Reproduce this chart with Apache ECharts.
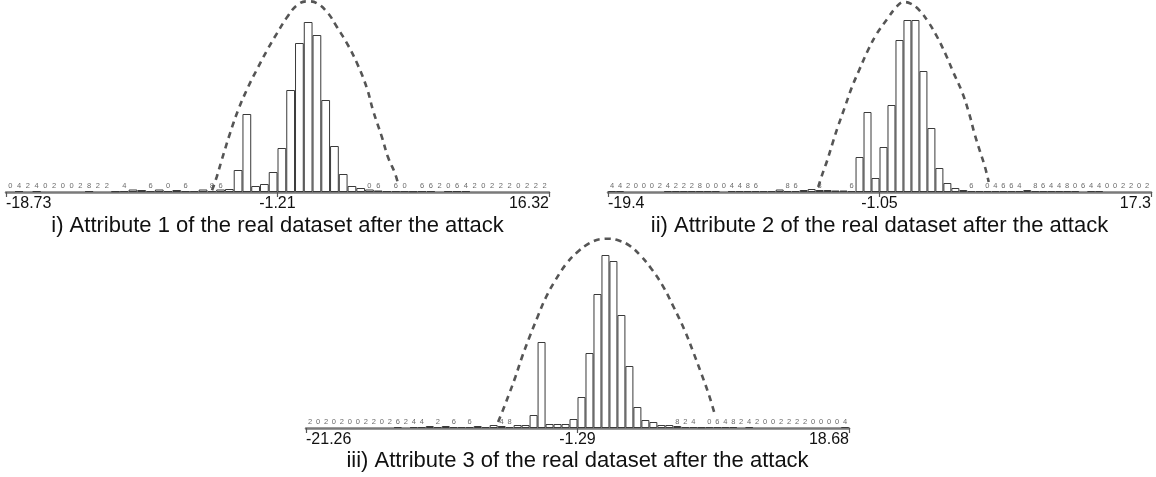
<!DOCTYPE html>
<html><head><meta charset="utf-8">
<script src="https://cdn.jsdelivr.net/npm/echarts@6/dist/echarts.min.js"></script>
<style>html,body{margin:0;padding:0;background:#fff}#c{width:1156px;height:477px}</style>
</head><body><div id="c"></div>
<script>
// ---------- titles ----------
const title1 = "i) Attribute 1 of the real dataset after the attack";
const title2 = "ii) Attribute 2 of the real dataset after the attack";
const title3 = "iii) Attribute 3 of the real dataset after the attack";

// ---------- axis ticks (min, mean, max) ----------
const ticks1 = [-18.73, -1.21, 16.32];
const tickLabels1 = ["-18.73", "-1.21", "16.32"];
const ticks2 = [-19.4, -1.05, 17.3];
const tickLabels2 = ["-19.4", "-1.05", "17.3"];
const ticks3 = [-21.26, -1.29, 18.68];
const tickLabels3 = ["-21.26", "-1.29", "18.68"];

// ---------- histogram bins (heights) ----------
const bars1 = [0,1,0,1,0,0,0,0,0,1,0,0, 0.8,1,2.5,2,1,2.5,1,2,1,1,2.5,1,2.5,3,
  22,78,6,8,20,44,102,149,170,157,92,46,18,6,4,
  2.5,1.5,1,1,1,0.8,1,1,0,1,1,1,0,0,0,0,0,0,0,0,0];
const bars2 = [1,1,0,0,0,0,0,1,1,1,1,1,1,1,0,1,1,1,1, 1,1,2.5,1,1,2,3,2,2,1.5,1.5,1,
  35,80,14,45,87,152,172,172,121,64,24,9,4,
  2,1,1,1,1,1,1,1,2,1,1,1,1,1,1,0,1,1,0,0,0,0,0,0];
const bars3 = [0,0,0,0,0,0,0,0,0,0,0,1,0,1,1, 2,1,2,1,1,1,2,1,3,2,1,3,3,
  13,86,4,4,4,9,31,75,134,173,167,113,62,21,8,6,3,3,
  2,1,1,0.8,1,1,1,1,0,1,0,0,0,0,0,0,0,0,0,0,0,1];

// ---------- count labels printed over the bins ----------
const counts1 = ["0","4","2","4","0","2","0","0","2","8","2","2","","4","","","6","","0","","6","","","8","6",
  "","","","","","","","","","","","","","","","",
  "0","6","","6","0","","6","6","2","0","6","4","2","0","2","2","2","0","2","2","2"];
const counts2 = ["4","4","2","0","0","0","2","4","2","2","2","8","0","0","0","4","4","8","6",
  "","","","8","6","","","8","","","","6",
  "","","","","","","","","","","","","",
  "","6","","0","4","6","6","4","","8","6","4","4","8","0","6","4","4","0","0","2","2","0","2"];
const counts3 = ["2","0","2","0","2","0","0","2","2","0","2","6","2","4","4",
  "","2","","6","","6","","","","4","8","","",
  "","","","","","","","","","","","","","","","","","",
  "8","2","4","","0","6","4","8","2","4","2","0","0","2","2","2","2","0","0","0","0","4"];

// ---------- fitted (dashed) curves ----------
const curve1X = [-5.43,-5.13,-4.81,-4.27,-3.75,-3.11,-2.46,-1.88,-1.24,-0.59,0.05,0.70,1.35,2.06,2.64,3.28,3.93,4.57,4.96,5.54,5.93,6.38,6.57];
const curve1Y = [1.7,15,31.7,58.7,81.7,104.7,124.7,141.7,158.7,174.7,186.7,190.7,188.7,178.7,164.7,148.7,128.7,103.7,81.7,54.7,34.7,18.7,8.7];
const curve2X = [-5.19,-4.94,-4.58,-4.23,-3.87,-3.39,-2.91,-2.43,-1.83,-1.23,-0.51,0.09,0.57,1.05,1.65,2.25,2.85,3.45,3.93,4.53,5.01,5.37,5.72,6.08,6.33];
const curve2Y = [5,16.7,31.7,48.4,65,85,105,121.7,141.7,158.4,173.4,185,190,188.4,181.7,170,155,136.7,120,100,78.4,58.4,41.7,25,10];
const curve3X = [-7.13,-6.78,-6.31,-5.86,-5.37,-4.82,-4.23,-3.60,-2.92,-2.11,-1.29,-0.47,0.34,1.02,1.70,2.51,3.33,4.14,4.96,5.78,6.59,7.27,7.82,8.35,8.76];
const curve3Y = [6,17.7,34.3,51,71,91,111,131,147.7,164.3,176,184.3,188.7,189.3,187.7,182.7,172.7,159.3,142.7,121,97.7,74.3,54.3,34.3,16];

const FONT = "'Liberation Sans', Arial, sans-serif";
const panels = [
  {title: title1, ticks: ticks1, labels: tickLabels1, bars: bars1, counts: counts1, cx: curve1X, cy: curve1Y,
   grid: {left: 6, top: 0, width: 543, height: 192}, tx: 277.5, ty: 214},
  {title: title2, ticks: ticks2, labels: tickLabels2, bars: bars2, counts: counts2, cx: curve2X, cy: curve2Y,
   grid: {left: 608, top: 0, width: 543, height: 192}, tx: 879.5, ty: 214},
  {title: title3, ticks: ticks3, labels: tickLabels3, bars: bars3, counts: counts3, cx: curve3X, cy: curve3Y,
   grid: {left: 306, top: 236, width: 543, height: 192}, tx: 577.5, ty: 449}
];

const option = {animation: false, backgroundColor: '#fff', grid: [], xAxis: [], yAxis: [], series: [], title: []};
panels.forEach((p, k) => {
  option.grid.push(p.grid);
  option.xAxis.push({type: 'category', gridIndex: k, position: 'bottom', data: p.bars.map((_, i) => i), show: false, boundaryGap: true});
  option.xAxis.push({
    type: 'value', gridIndex: k, position: 'bottom', min: p.ticks[0], max: p.ticks[2],
    splitLine: {show: false},
    axisLine: {show: true, onZero: false, lineStyle: {color: '#7a7a7a', width: 2.5}},
    axisTick: {show: true, customValues: p.ticks, length: 5, lineStyle: {color: '#555', width: 1.2}},
    axisLabel: {
      customValues: p.ticks,
      formatter: v => {
        let best = 0;
        p.ticks.forEach((t, i) => { if (Math.abs(t - v) < Math.abs(p.ticks[best] - v)) best = i; });
        return p.labels[best];
      },
      alignMinLabel: 'left', alignMaxLabel: 'right', showMinLabel: true, showMaxLabel: true,
      fontSize: 16, color: '#111', fontFamily: FONT, margin: 4
    }
  });
  option.yAxis.push({type: 'value', gridIndex: k, min: 0, max: 192, show: false});
  option.series.push({
    type: 'bar', xAxisIndex: 2 * k, yAxisIndex: k,
    data: p.bars.map(v => v > 0 ? v : '-'),
    barWidth: '100%', itemStyle: {color: '#fff', borderColor: '#3a3a3a', borderWidth: 1}, z: 2
  });
  option.series.push({
    type: 'scatter', xAxisIndex: 2 * k, yAxisIndex: k,
    data: p.counts.map((d, i) => [i, 0]),
    symbolSize: 2, itemStyle: {color: 'rgba(0,0,0,0)'}, silent: true, z: 3,
    label: {show: true, position: 'top', distance: 1, formatter: q => p.counts[q.dataIndex],
      fontSize: 7.5, color: '#444', fontFamily: FONT}
  });
  option.series.push({
    type: 'line', xAxisIndex: 2 * k + 1, yAxisIndex: k,
    data: p.cx.map((x, i) => [x, p.cy[i]]),
    smooth: 0.4, symbol: 'none', z: 4,
    lineStyle: {type: [6, 5], width: 2.6, color: '#555'}
  });
  option.title.push({
    text: p.title, left: p.tx, top: p.ty, textAlign: 'center', padding: 0,
    textStyle: {fontSize: 22, fontWeight: 'normal', color: '#111', fontFamily: FONT, lineHeight: 24}
  });
});

const chart = echarts.init(document.getElementById('c'), null, {renderer: 'canvas'});
chart.setOption(option);
</script>
</body></html>
